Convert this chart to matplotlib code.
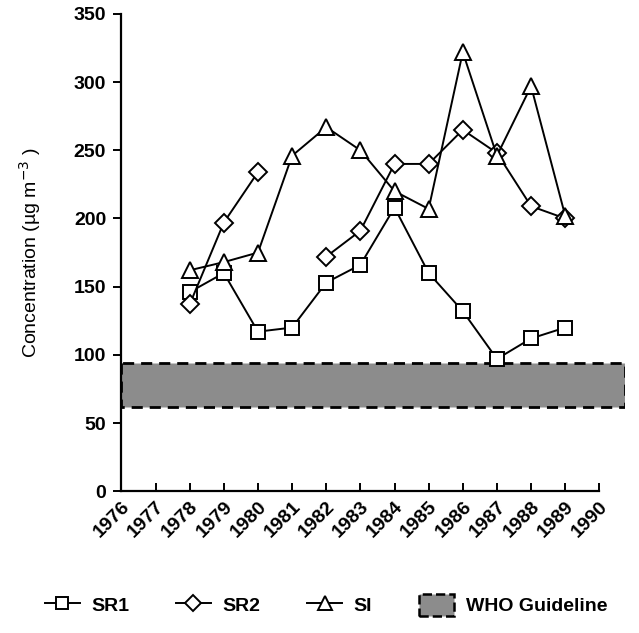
import matplotlib
matplotlib.use("Agg")
import matplotlib.pyplot as plt
from matplotlib.patches import Patch

years = list(range(1976, 1991))

sr1_years = [1978, 1979, 1980, 1981, 1982, 1983, 1984, 1985, 1986, 1987, 1988, 1989]
sr1_vals = [146, 160, 117, 120, 153, 166, 208, 160, 132, 97, 112, 120]

sr2_years_a = [1978, 1979, 1980]
sr2_vals_a = [137, 197, 234]
sr2_years_b = [1982, 1983, 1984, 1985, 1986, 1987, 1988, 1989]
sr2_vals_b = [172, 191, 240, 240, 265, 248, 209, 200]

si_years = [1978, 1979, 1980, 1981, 1982, 1983, 1984, 1985, 1986, 1987, 1988, 1989]
si_vals = [162, 168, 175, 246, 267, 250, 220, 207, 322, 246, 297, 202]

who_low = 62
who_high = 94

plt.rcParams['font.family'] = ['Liberation Sans', 'DejaVu Sans']

fig = plt.figure(figsize=(6.39, 6.33), dpi=100)
ax = fig.add_axes([0.190, 0.224, 0.788, 0.754])

# WHO guideline band
ax.fill_between([1976, 1990.75], who_low, who_high, facecolor='#8c8c8c',
                edgecolor='black', linestyle=(0, (4, 2.5)), linewidth=2, zorder=1)

mk = dict(color='black', linewidth=1.4, markerfacecolor='white',
          markeredgecolor='black', markeredgewidth=1.4, zorder=3)
ax.plot(sr1_years, sr1_vals, marker='s', markersize=10, **mk)
ax.plot(sr2_years_a, sr2_vals_a, marker='D', markersize=9, **mk)
ax.plot(sr2_years_b, sr2_vals_b, marker='D', markersize=9, **mk)
ax.plot(si_years, si_vals, marker='^', markersize=11, **mk)

ax.set_xlim(1976, 1990.75)
ax.set_ylim(0, 350)
ax.spines['top'].set_visible(False)
ax.spines['right'].set_visible(False)
ax.spines['bottom'].set_bounds(1976, 1990)
ax.spines['left'].set_linewidth(1.6)
ax.spines['bottom'].set_linewidth(1.6)

ax.set_xticks(years)
ax.set_xticklabels([str(y) for y in years], rotation=45, ha='right',
                   rotation_mode='anchor', fontsize=14, fontweight='bold')
ax.tick_params(axis='x', direction='in', length=6, width=1.4, pad=5)
ax.set_yticks(range(0, 351, 50))
ax.tick_params(axis='y', direction='out', length=6, width=1.4, labelsize=14, pad=5)
for lbl in ax.get_yticklabels():
    lbl.set_fontweight('bold')

ax.set_ylabel('Concentration (µg m$^{-3}$ )', fontsize=14, labelpad=22)

handles = [
    plt.Line2D([], [], marker='s', markersize=9, **mk),
    plt.Line2D([], [], marker='D', markersize=8, **mk),
    plt.Line2D([], [], marker='^', markersize=10, **mk),
    Patch(facecolor='#8c8c8c', edgecolor='black', linestyle='--', linewidth=1.8),
]
leg = fig.legend(handles, ['SR1', 'SR2', 'SI', 'WHO Guideline'], loc='lower center',
                 bbox_to_anchor=(0.51, 0.0), ncol=4, frameon=False,
                 prop={'size': 14, 'weight': 'bold'},
                 handlelength=1.8, handleheight=1.3, columnspacing=2.4, handletextpad=0.6)

fig.savefig('out.png', dpi=100)
